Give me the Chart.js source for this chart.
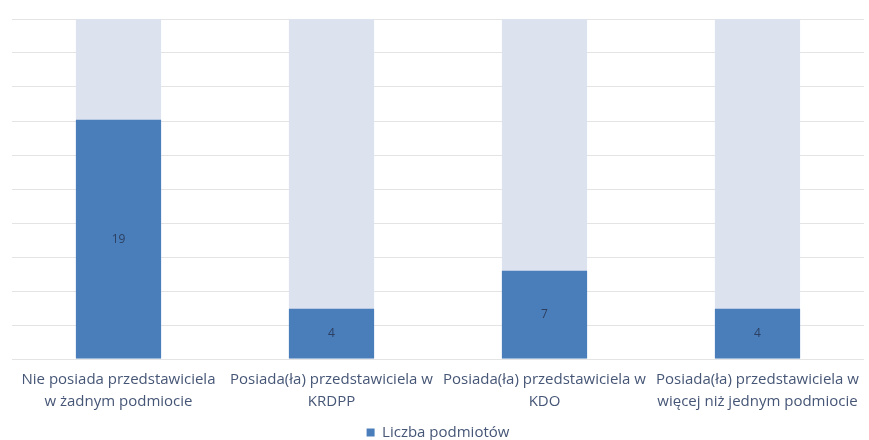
<!DOCTYPE html>
<html>
<head>
<meta charset="utf-8">
<script src="https://cdn.jsdelivr.net/npm/chart.js@4"></script>
<style>
  html, body { margin: 0; padding: 0; background: #ffffff; }
  #wrap { width: 869px; height: 440px; position: relative; }
</style>
</head>
<body>
<div id="wrap"><canvas id="c"></canvas></div>
<script>
const categories = [
  ["Nie posiada przedstawiciela", "w żadnym podmiocie"],
  ["Posiada(ła) przedstawiciela w", "KRDPP"],
  ["Posiada(ła) przedstawiciela w", "KDO"],
  ["Posiada(ła) przedstawiciela w", "więcej niż jednym podmiocie"]
];
const seriesName = "Liczba podmiotów";
const values = [19, 4, 7, 4];
const backgroundTotal = [27, 27, 27, 27];
const axisMax = 27;

const textColor = "#465676";

const barLabels = {
  id: "barLabels",
  afterLayout(chart) {
    if (chart.legend) {
      chart.legend.top += 9;
      chart.legend.bottom += 9;
    }
  },
  afterDatasetsDraw(chart) {
    const ctx = chart.ctx;
    const meta = chart.getDatasetMeta(0);
    ctx.save();
    ctx.font = "12px 'Open Sans'";
    ctx.fillStyle = "#2c3f60";
    ctx.textAlign = "center";
    ctx.textBaseline = "middle";
    meta.data.forEach((bar, i) => {
      const y = (bar.y + bar.base) / 2;
      ctx.fillText(String(values[i]), bar.x, y);
    });
    ctx.restore();
  }
};

new Chart(document.getElementById("c"), {
  type: "bar",
  data: {
    labels: categories,
    datasets: [
      {
        label: seriesName,
        data: values,
        backgroundColor: "#4a7ebb",
        grouped: false,
        categoryPercentage: 1,
        barPercentage: 0.4
      },
      {
        label: "tło",
        data: backgroundTotal,
        backgroundColor: "#dce3ef",
        grouped: false,
        categoryPercentage: 1,
        barPercentage: 0.4
      }
    ]
  },
  options: {
    responsive: true,
    maintainAspectRatio: false,
    animation: false,
    layout: { padding: { top: 19, left: 12, right: 5, bottom: -1 } },
    plugins: {
      legend: {
        position: "bottom",
        labels: {
          filter: (item) => item.datasetIndex === 0,
          boxWidth: 8,
          boxHeight: 8,
          padding: 2,
          color: textColor,
          font: { family: "'Open Sans'", size: 15, lineHeight: 1 }
        }
      },
      tooltip: { enabled: false }
    },
    scales: {
      x: {
        grid: { display: false },
        border: { display: false },
        ticks: {
          color: textColor,
          font: { family: "'Open Sans'", size: 15, lineHeight: 1.5 },
          maxRotation: 0,
          autoSkip: false,
          padding: 1
        }
      },
      y: {
        min: 0,
        max: axisMax,
        ticks: { display: false, count: 11 },
        grid: { color: "#e4e4e4", lineWidth: 1, drawTicks: false },
        border: { display: false }
      }
    }
  },
  plugins: [barLabels]
});
</script>
</body>
</html>
